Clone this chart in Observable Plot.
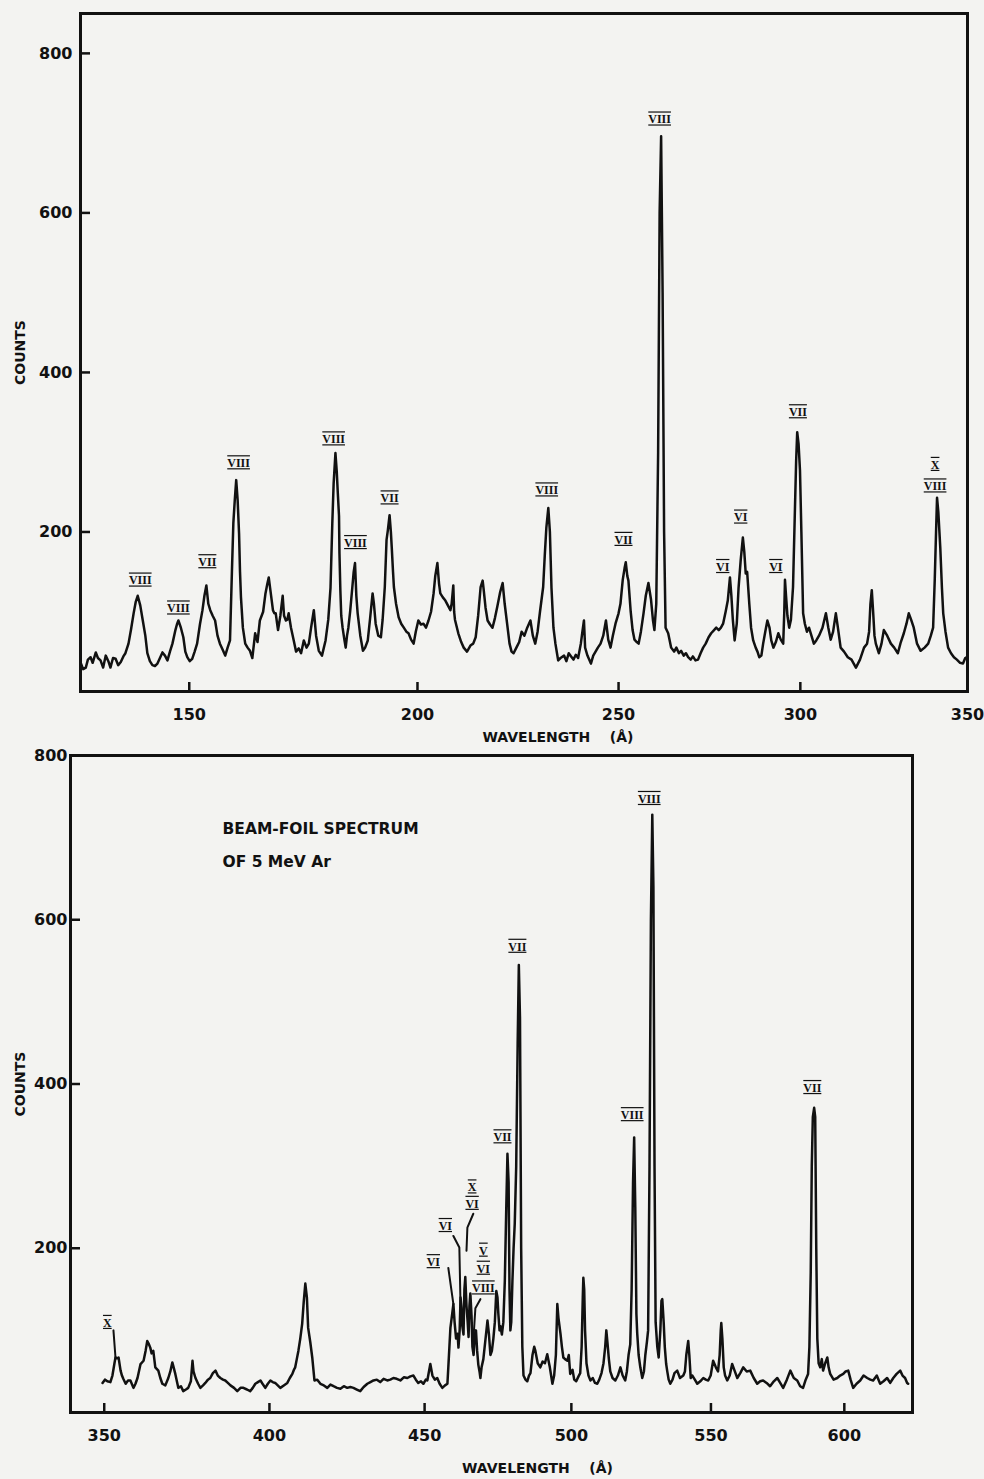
<!DOCTYPE html>
<html><head><meta charset="utf-8">
<script src="https://cdn.jsdelivr.net/npm/d3@7"></script>
<script src="https://cdn.jsdelivr.net/npm/@observablehq/plot@0.6"></script>
<style>
html,body{margin:0;padding:0;background:#f3f3f1;}
#chart{width:984px;height:1479px;position:relative;overflow:hidden;}
#chart svg{display:block;}
.num text{text-decoration:underline overline;text-decoration-thickness:2px;}
</style></head><body><div id="chart"></div>
<script>
// ---------- data ----------
const topXTicks = [150, 200, 250, 300, 350];
const bottomXTicks = [350, 400, 450, 500, 550, 600];
const yTicks = [200, 400, 600, 800];

const topSpectrum = [[128.8,35],[129.2,28],[129.7,30],[130.1,40],[130.6,43],[131.0,36],[131.6,49],[132.0,42],[132.5,39],[133.0,30],[133.5,45],[134.0,38],[134.4,30],[134.9,42],[135.4,41],[135.9,33],[136.4,37],[136.9,44],[137.3,48],[137.9,60],[138.4,78],[138.9,98],[139.3,112],[139.7,120],[140.2,108],[140.7,89],[141.2,70],[141.6,48],[142.1,38],[142.6,33],[143.1,32],[143.6,35],[144.1,42],[144.6,49],[145.1,45],[145.6,39],[146.1,50],[146.6,60],[147.2,77],[147.5,84],[147.8,89],[148.3,80],[148.8,68],[149.2,50],[149.6,43],[150.1,38],[150.6,41],[151.1,50],[151.6,60],[152.2,85],[152.7,102],[153.1,120],[153.5,133],[153.9,110],[154.3,102],[154.8,95],[155.3,89],[155.8,70],[156.3,60],[156.9,52],[157.4,45],[157.9,55],[158.4,64],[158.8,150],[159.1,211],[159.4,240],[159.7,265],[160.0,240],[160.3,198],[160.5,150],[160.7,118],[161.1,80],[161.6,60],[162.1,55],[162.6,51],[163.1,42],[163.7,73],[164.2,62],[164.7,89],
[165.4,100],[165.9,123],[166.3,135],[166.6,143],[167.0,125],[167.5,102],[167.8,98],[168.1,98],[168.4,85],[168.6,77],[169.1,95],[169.6,120],[169.9,95],[170.3,89],[170.6,90],[170.9,98],[171.4,80],[172.0,64],[172.5,50],[173.1,54],[173.6,48],[174.2,64],[174.8,55],[175.3,60],[175.8,80],[176.4,102],[176.9,70],[177.5,51],[178.2,45],[179.0,64],[179.6,90],[180.1,130],[180.5,211],[180.8,261],[181.2,299],[181.5,275],[181.7,252],[182.0,220],[182.1,173],[182.3,127],[182.5,95],[182.8,80],[183.2,65],[183.5,55],[183.8,70],[184.1,80],[184.5,100],[185.0,131],
[185.3,150],[185.6,161],[185.9,120],[186.2,98],[186.8,70],[187.4,51],[187.9,55],[188.5,64],[189.0,90],[189.6,123],[189.9,110],[190.3,85],[190.9,70],[191.5,68],[191.9,90],[192.4,131],[192.8,190],[193.1,202],[193.5,221],[193.8,200],[194.0,181],[194.3,150],[194.5,131],[195.0,110],[195.6,93],[196.2,85],[196.8,80],[197.4,75],[197.9,73],[198.5,65],[199.1,60],[199.6,75],[200.2,89],[200.8,84],[201.4,85],[202.0,80],[202.6,89],[203.2,100],[203.8,123],[204.2,145],[204.7,161],[205.1,135],[205.4,123],[206.0,118],[206.6,114],[207.2,108],[207.8,102],[208.1,110],[208.5,133],[208.7,100],[208.9,90],[209.7,73],
[210.4,62],[211.0,55],[211.8,50],[212.7,58],[213.3,60],[213.9,68],[214.5,95],[215.1,131],[215.6,139],[215.8,130],[216.3,105],[216.8,89],[217.4,84],[218.0,80],[218.6,92],[219.2,107],[219.9,125],[220.5,136],[221.0,110],[221.6,85],[222.2,60],[222.7,50],[223.2,48],[223.9,55],[224.6,62],[225.2,75],[225.9,70],[226.6,80],[227.4,89],[228.0,70],[228.6,60],[229.2,75],[229.8,100],[230.6,131],[231.0,170],[231.4,205],[231.9,230],[232.3,200],[232.7,130],[233.2,80],[233.7,60],[234.1,48],[234.4,39],[235.0,42],
[235.9,45],[236.5,38],[237.1,48],[237.7,44],[238.3,40],[238.9,46],[239.5,42],[240.2,60],[240.6,75],[241.0,89],[241.3,55],[241.9,45],[242.8,35],[243.4,45],[244.0,50],[244.6,55],[245.3,60],[246.0,70],[246.7,89],[247.3,65],[247.9,55],[248.5,70],[249.2,85],[250.0,98],[250.5,110],[251.1,140],[251.6,155],[251.9,162],[252.3,145],[252.6,139],[253.2,100],[253.7,77],[254.2,65],[254.8,62],[255.3,60],[255.9,75],[256.6,98],[257.2,120],[257.9,136],
[258.6,115],[259.1,90],[259.5,77],[260.0,110],[260.5,300],[260.9,600],[261.3,696],[261.7,500],[262.1,200],[262.5,80],[263.2,73],[264.0,55],[264.8,50],[265.4,55],[266.1,48],[266.7,51],[267.4,45],[268.0,48],[268.6,43],[269.3,40],[269.9,44],[270.6,39],[271.3,40],[272.0,48],[272.7,55],[273.4,60],[274.2,68],[274.9,73],[275.7,77],[276.3,80],[277.0,77],[277.6,80],[278.2,85],[278.9,100],[279.5,114],[280.1,143],[280.5,120],[280.9,90],[281.4,64],[282.0,85],[282.5,130],[283.1,165],[283.7,193],[284.1,175],[284.5,148],[284.9,150],
[285.5,110],[286.0,80],[286.6,64],[287.3,55],[287.8,50],[288.3,43],[288.9,45],[289.4,60],[290.0,75],[290.6,89],[291.2,80],[291.7,64],[292.3,55],[293.0,62],[293.7,73],[294.4,65],[295.1,60],[295.4,100],[295.6,140],[295.9,120],[296.3,95],[296.8,80],[297.3,90],[297.9,131],[298.4,220],[298.8,290],[299.1,325],[299.5,310],[299.9,277],[300.3,200],[300.8,98],[301.3,85],[301.9,75],[302.5,80],[303.2,70],[303.9,60],[304.6,64],[305.4,70],[306.4,80],[307.4,98],[308.1,80],[308.8,65],[309.5,75],[310.3,98],[310.9,80],[311.7,55],[312.7,50],[313.8,43],[314.9,40],
[316.2,30],[317.4,40],[318.6,55],[319.5,60],[320.1,75],[320.5,110],[320.9,127],[321.3,100],[321.7,70],[322.1,60],[323.0,48],[323.8,60],[324.5,77],[325.5,70],[326.6,60],[327.6,55],[328.7,48],[329.6,62],[330.5,73],[331.3,85],[332.0,98],[332.7,90],[333.5,80],[334.5,60],[335.6,51],
[336.8,55],[337.9,60],[338.7,70],[339.4,80],[339.9,140],[340.3,200],[340.6,243],[341.0,225],[341.6,180],[342.1,130],[342.5,98],[343.2,75],[344.0,55],[344.9,48],[345.8,43],[346.7,40],[347.7,36],[348.6,35],[349.3,42],[349.8,43]];

const bottomSpectrum = [[349.5,36],[350.2,40],[350.9,38],[351.8,37],[352.4,45],[353.0,60],[353.3,67],[353.8,66],[354.2,67],[354.8,51],[355.2,45],[355.6,41],[356.3,35],[357.0,39],[357.7,39],[358.6,30],[359.2,35],[359.8,42],[360.7,59],[361.6,63],[362.2,75],[362.7,87],[363.1,84],[363.6,79],[364.0,72],[364.5,75],[365.1,55],[366.0,51],[366.6,42],[367.2,35],[368.1,33],[369.0,42],[369.6,50],[370.2,61],[370.6,55],[371.1,47],[372.0,30],[372.8,32],[373.5,26],[374.3,28],[375.0,30],[375.8,38],[376.3,63],[376.6,50],[377.2,42],[378.0,35],[378.7,30],[379.5,33],[380.2,36],[381.0,40],[381.7,42],[382.5,48],[383.3,51],[384.0,45],[384.8,42],[385.6,40],[386.3,39],[387.1,36],[387.9,33],[389.0,30],[390.0,26],[391.0,30],[391.9,30],[393.0,28],[394.0,26],[394.8,30],[395.6,35],[396.4,37],[397.2,39],[398.0,34],[398.7,30],[399.5,35],[400.3,39],[401.0,37],[401.8,36],[402.6,33],[403.4,30],[404.5,33],[405.6,36],[406.4,42],[407.2,47],[407.7,52],[408.1,55],[408.6,65],[409.1,75],[409.7,90],[410.3,108],[410.8,135],[411.3,157],[411.8,140],[412.2,103],[412.9,85],[413.5,67],[414.2,39],[415.1,40],[416.1,35],[417.2,33],[418.3,30],[419.3,34],[420.3,32],[421.4,30],[422.5,29],[423.6,32],[424.7,30],[425.7,31],[426.7,30],[427.8,28],[428.9,26],[430.0,31],[431.2,35],[432.2,37],[433.2,39],[434.3,40],[435.4,37],[436.5,41],[437.7,39],[438.7,40],[439.7,42],[440.8,41],[442.0,39],[443.2,43],[444.3,42],[445.3,44],[446.3,45],[447.1,40],[447.9,36],[448.8,38],[449.6,35],[450.4,40],[450.9,39],[451.9,59],[452.6,45],[453.4,40],[454.2,42],[455.0,35],[455.9,30],[456.8,33],[457.6,35],[457.9,55],[458.6,103],[459.2,120],[459.6,132],[460.0,110],[460.5,90],[461.0,96],[461.3,79],[461.7,100],[462.0,140],[462.3,128],[462.6,105],[463.0,95],[463.3,150],[463.6,165],[464.0,130],[464.4,110],[464.7,92],[465.0,130],[465.3,145],[465.7,118],[466.0,80],[466.4,70],[466.8,95],[467.2,100],[467.6,75],[468.0,58],[468.4,50],[468.7,42],[469.1,55],[469.7,65],[470.3,85],[471.1,112],[471.6,95],[472.1,70],[472.6,75],[473.1,90],[473.6,110],[474.1,148],[474.5,140],[474.8,120],[475.2,100],[475.5,105],[476.0,95],[476.5,110],[477.0,160],[477.5,250],[477.9,315],[478.3,280],[478.6,150],[478.9,100],[479.2,110],[479.6,160],[480.0,200],[480.4,230],[480.9,300],[481.4,450],[481.8,545],[482.2,480],[482.6,200],[483.0,80],[483.4,45],[484.1,40],[484.7,38],[485.3,45],[485.8,48],[486.5,70],[487.1,80],[487.5,75],[488.3,60],[489.2,55],[490.0,62],[490.8,60],[491.6,71],[492.5,55],[493.4,35],[494.0,45],[494.6,70],[495.1,132],[495.5,115],[496.2,96],[496.7,80],[497.2,67],[497.8,65],[498.6,63],[499.1,70],[499.6,47],[500.4,52],[501.0,40],[501.7,38],[502.5,44],[503.1,48],[503.6,80],[504.0,140],[504.2,164],[504.5,150],[504.8,100],[505.3,60],[506.0,45],[506.7,39],[507.5,42],[508.3,36],[509.1,35],[509.8,40],[510.6,48],[511.3,60],[511.9,80],[512.3,100],[512.7,85],[513.2,65],[513.7,50],[514.5,42],[515.5,39],[516.4,45],[517.3,55],[518.1,45],[519.0,39],[519.6,50],[520.2,70],[520.8,83],[521.3,150],[521.8,280],[522.2,335],[522.6,250],[523.0,120],[523.3,96],[523.8,70],[524.4,55],[525.1,42],[525.7,50],[526.2,70],[526.8,87],[527.2,100],[527.7,300],[528.2,600],[528.7,728],[529.1,640],[529.5,300],[529.9,110],[530.5,80],[531.0,67],[531.6,100],[532.0,136],[532.3,138],[532.8,110],[533.2,80],[533.7,59],[534.1,50],[534.6,40],[535.2,35],[536.0,40],[536.7,48],[537.7,51],[538.7,42],[539.9,45],[540.5,50],[541.0,70],[541.4,80],[541.7,87],[542.1,70],[542.6,42],[543.2,45],[544.1,40],[545.0,35],[546.1,38],[547.2,42],[548.1,40],[549.0,39],[549.9,45],[550.8,63],[551.8,55],[552.6,50],[553.2,70],[553.6,100],[553.8,109],[554.2,90],[554.7,55],[555.2,45],[556.0,39],[556.9,45],[557.8,59],[558.8,50],[559.7,42],[560.8,48],[561.9,55],[563.2,50],[564.5,51],[565.8,42],[567.1,35],[568.2,38],[569.3,39],[570.6,36],[571.9,32],[573.3,38],[574.6,42],[575.7,36],[576.8,30],[578.2,40],[579.5,51],[580.8,42],[582.1,39],[583.2,32],[584.3,30],[585.3,40],[586.2,47],[586.7,80],[587.2,170],[587.6,300],[588.0,360],[588.5,371],[588.9,360],[589.3,200],[589.7,90],[590.2,60],[590.8,55],[591.4,65],[591.9,51],[592.7,60],[593.5,67],[594.0,55],[594.6,47],[595.9,40],[597.3,42],[598.4,45],[599.6,47],[600.5,50],[601.5,51],[602.4,40],[603.4,30],[604.7,35],[606.1,39],[607.4,45],[608.8,42],[610.0,40],[611.1,39],[612.5,45],[613.8,35],[615.1,38],[616.5,42],[617.7,36],[618.9,42],[620.2,47],[621.6,51],[622.5,45],[623.5,42],[624.3,36],[624.7,35]];

// ion-stage labels (Roman numerals) placed above lines
const topLabelText  = ["VIII","VIII","VII","VIII","VIII","VIII","VII","VIII","VII","VIII","VI","VI","VI","VII","X","VIII"];
const topLabelWl    = [140.2,147.8,153.7,160.2,180.8,185.7,193.5,231.5,251.3,260.9,278.1,283.1,293.0,299.3,340.0,340.0];
const topLabelCount = [139,104,162,286,316,186,242,252,190,717,156,218,156,350,284,257];

const bottomLabelText  = ["X","VI","VI","X","VI","V","VI","VIII","VII","VII","VIII","VIII","VII"];
const bottomLabelWl    = [350.9,452.9,456.9,465.9,465.9,469.7,469.7,469.7,476.2,481.3,521.5,527.6,587.8];
const bottomLabelCount = [109,183,227,274,254,197,175,151,335,567,362,747,395];

// leader lines from labels to lines (bottom panel)
const leaderId    = [0,0, 1,1, 2,2,2, 3,3,3, 4,4,4];
const leaderWl    = [352.7,353.3, 457.9,459.6, 459.6,461.6,462.0, 466.3,464.3,464.0, 468.7,467.0,466.3];
const leaderCount = [100,67, 176,132, 215,201,130, 242,225,197, 138,127,87];

const annotation = ["BEAM-FOIL SPECTRUM", "OF 5 MeV Ar"];
const yTitle = "COUNTS";
const xTitle = "WAVELENGTH    (Å)";

// ---------- drawing ----------
const ink = "#111";
const tickFont = {fontSize: 16, fontWeight: "bold", fontFamily: "DejaVu Sans", fill: ink};
const titleFont = {fontSize: 14, fontWeight: "bold", fontFamily: "DejaVu Sans", fill: ink};

function panel({width, height, mL, mR, mT, mB, xDomain, yDomain, xTicks, yPad, spectrum,
                lText, lWl, lCount, yDx, xDx, xDy, extra = []}) {
  const plotW = width - mL - mR, plotH = height - mT - mB;
  return Plot.plot({
    width, height,
    marginLeft: mL, marginRight: mR, marginTop: mT, marginBottom: mB,
    style: {background: "transparent", overflow: "visible"},
    x: {type: "sqrt", domain: xDomain},
    y: {domain: yDomain},
    marks: [
      // inward tick marks
      Plot.tickX(xTicks, {x: d => d, insetTop: plotH - 9, stroke: ink, strokeWidth: 2.5}),
      Plot.tickY(yTicks, {y: d => d, insetRight: plotW - 10, stroke: ink, strokeWidth: 2.5}),
      Plot.axisX(xTicks, {tickSize: 0, tickPadding: 17, ...tickFont, label: null}),
      Plot.axisY(yTicks, {tickSize: 0, tickPadding: yPad, ...tickFont, label: null}),
      Plot.line(spectrum, {x: d => d[0], y: d => d[1], stroke: ink, strokeWidth: 2.5, strokeLinejoin: "round"}),
      ...extra,
      Plot.text(lText, {x: lWl, y: lCount, text: d => d, fontSize: 12, fontWeight: "bold",
                        fontFamily: "Liberation Serif", fill: ink, className: "num"}),
      Plot.text([yTitle], {frameAnchor: "left", rotate: -90, dx: yDx, lineAnchor: "middle", textAnchor: "middle",
                           ...titleFont, letterSpacing: 1.5}),
      Plot.text([xTitle], {frameAnchor: "bottom", dx: xDx, dy: xDy, lineAnchor: "middle", textAnchor: "middle",
                           ...titleFont, letterSpacing: 1.2}),
      Plot.frame({stroke: ink, strokeWidth: 3})
    ]
  });
}

const topPlot = panel({
  width: 984, height: 748, mL: 80, mR: 17, mT: 13, mB: 57,
  xDomain: [128.7, 350], yDomain: [0, 850], xTicks: topXTicks, yPad: 8,
  spectrum: topSpectrum, lText: topLabelText, lWl: topLabelWl, lCount: topLabelCount,
  yDx: -60, xDx: 34, xDy: 46
});

const bottomPlot = panel({
  width: 984, height: 731, mL: 70, mR: 72, mT: 7, mB: 67,
  xDomain: [340.2, 626.4], yDomain: [0, 800], xTicks: bottomXTicks, yPad: 3,
  spectrum: bottomSpectrum, lText: bottomLabelText, lWl: bottomLabelWl, lCount: bottomLabelCount,
  yDx: -50, xDx: 46, xDy: 56,
  extra: [
    Plot.line(leaderWl, {x: leaderWl, y: leaderCount, z: leaderId, stroke: ink, strokeWidth: 2}),
    Plot.text([annotation[0]], {frameAnchor: "top-left", dx: 152, dy: 74, lineAnchor: "middle", textAnchor: "start",
                                fontSize: 15.5, fontWeight: "bold", fontFamily: "DejaVu Sans", fill: ink}),
    Plot.text([annotation[1]], {frameAnchor: "top-left", dx: 152, dy: 107, lineAnchor: "middle", textAnchor: "start",
                                fontSize: 15.5, fontWeight: "bold", fontFamily: "DejaVu Sans", fill: ink})
  ]
});

const root = document.getElementById("chart");
root.appendChild(topPlot);
root.appendChild(bottomPlot);
</script></body></html>
